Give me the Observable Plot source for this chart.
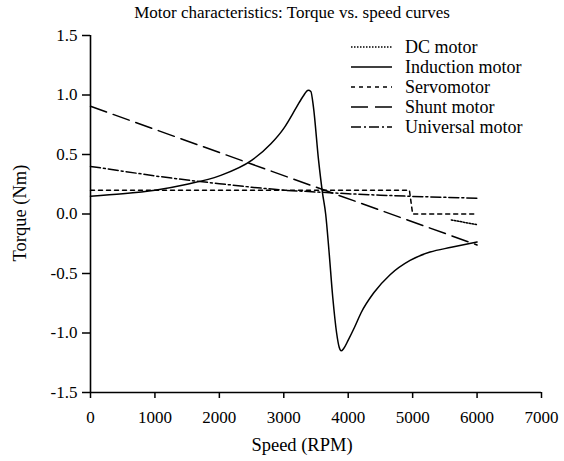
<!DOCTYPE html>
<html><head><meta charset="utf-8">
<script src="https://cdn.jsdelivr.net/npm/d3@7"></script>
<script src="https://cdn.jsdelivr.net/npm/@observablehq/plot@0.6"></script>
<style>
body{margin:0;background:#fff;}
#wrap{position:relative;width:564px;height:461px;font-family:"Liberation Serif",serif;}
#wrap svg{position:absolute;left:0;top:0;}
#wrap svg text{font-family:"Liberation Serif",serif;}
</style></head><body><div id="wrap"></div>
<script>
const title = "Motor characteristics: Torque vs. speed curves";
const xLabel = "Speed (RPM)";
const yLabel = "Torque (Nm)";
const speedTicks = [0, 1000, 2000, 3000, 4000, 5000, 6000, 7000];
const torqueTicks = [-1.5, -1.0, -0.5, 0.0, 0.5, 1.0, 1.5];
const motors = ["DC motor", "Induction motor", "Servomotor", "Shunt motor", "Universal motor"];
const dashes = ["1.5,1.5", null, "4,4", "17,7", "10,3,2,3"];

const dcSpeed  = [5600, 6000];
const dcTorque = [-0.05, -0.09];

const inductionSpeed  = [0, 500, 1000, 1500, 2000, 2500, 2800, 3000, 3200, 3300, 3380, 3420, 3460, 3540, 3600, 3650, 3700, 3760, 3820, 3860, 3890, 3930, 4000, 4100, 4200, 4400, 4650, 4960, 5270, 5600, 6000];
const inductionTorque = [0.15, 0.17, 0.2, 0.25, 0.32, 0.45, 0.59, 0.72, 0.9, 0.99, 1.04, 1.03, 0.9, 0.45, 0.18, 0.0, -0.3, -0.7, -1.0, -1.12, -1.15, -1.13, -1.06, -0.95, -0.83, -0.66, -0.51, -0.39, -0.32, -0.28, -0.235];

const servoSpeed  = [0, 4950, 5000, 6000];
const servoTorque = [0.2, 0.2, 0.0, 0.0];

const shuntSpeed  = [0, 6000];
const shuntTorque = [0.905, -0.26];

const universalSpeed  = [0, 500, 1000, 1500, 2000, 2500, 3000, 3500, 4000, 4500, 5000, 5500, 6000];
const universalTorque = [0.40, 0.36, 0.32, 0.285, 0.255, 0.225, 0.2, 0.185, 0.17, 0.158, 0.148, 0.14, 0.133];

const series = [
  [dcSpeed, dcTorque],
  [inductionSpeed, inductionTorque],
  [servoSpeed, servoTorque],
  [shuntSpeed, shuntTorque],
  [universalSpeed, universalTorque]
].map(([s, t], i) => ({motor: motors[i], dash: dashes[i], rows: s.map((x, j) => ({speed: x, torque: t[j] == null ? NaN : t[j]}))}));

const W = 564, H = 461;
const lineMarks = series.map(s => Plot.line(s.rows, {
  x: "speed", y: "torque", stroke: "black", strokeWidth: 1.5,
  strokeDasharray: s.dash || undefined,
  curve: s.motor === "Induction motor" ? "monotone-x" : "linear"
}));

const chart = Plot.plot({
  width: W, height: H,
  marginTop: 35, marginBottom: 69, marginLeft: 90, marginRight: 23,
  style: {fontFamily: "Liberation Serif, serif", fontSize: "17px", color: "black", background: "white"},
  x: {domain: [speedTicks[0], speedTicks[speedTicks.length - 1]]},
  y: {domain: [torqueTicks[0], torqueTicks[torqueTicks.length - 1]]},
  marks: [
    Plot.axisX({ticks: speedTicks, tickSize: 6, tickPadding: 12, tickFormat: d => String(d), label: null, fontSize: 17, strokeWidth: 1.5}),
    Plot.axisY({ticks: torqueTicks, tickSize: 8, tickPadding: 5, tickFormat: d => d.toFixed(1), label: null, fontSize: 17, strokeWidth: 1.5}),
    Plot.ruleX([speedTicks[0]], {strokeWidth: 1.6}),
    Plot.ruleY([torqueTicks[0]], {strokeWidth: 1.6}),
    ...lineMarks
  ]
});
const wrap = document.getElementById("wrap");
wrap.appendChild(chart);

// overlay: title, axis labels, legend
const svg = d3.select(wrap).append("svg").attr("width", W).attr("height", H)
  .style("pointer-events", "none");
svg.append("text").attr("x", 292).attr("y", 18).attr("text-anchor", "middle").attr("font-size", 17).text(title);
svg.append("text").attr("x", 302).attr("y", 451).attr("text-anchor", "middle").attr("font-size", 18.5).text(xLabel);
svg.append("text").attr("transform", "translate(26,213) rotate(-90)").attr("text-anchor", "middle").attr("font-size", 18.5).text(yLabel);

const lg = svg.append("g");
series.forEach((s, i) => {
  const cy = 47 + i * 20;
  lg.append("line").attr("x1", 351).attr("x2", 392).attr("y1", cy).attr("y2", cy)
    .attr("stroke", "black").attr("stroke-width", 1.5).attr("stroke-dasharray", s.dash);
  lg.append("text").attr("x", 405).attr("y", cy).attr("dy", "0.33em").attr("font-size", 18).text(s.motor);
});
</script></body></html>
